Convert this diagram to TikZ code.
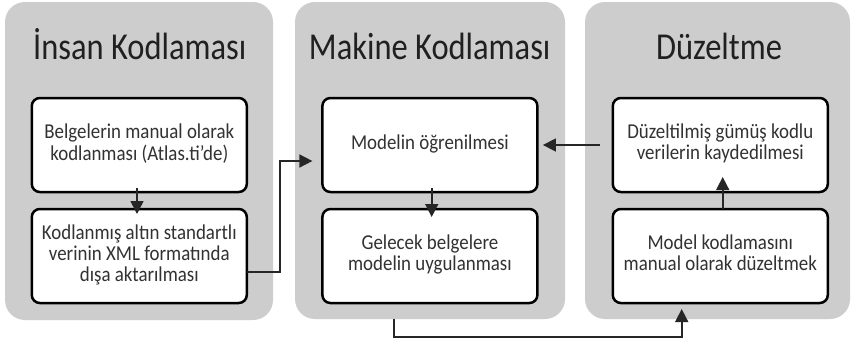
\documentclass[tikz,border=0pt]{standalone}
\usepackage{fontspec}
\setmainfont{Carlito}
\usepackage{graphicx}
\usetikzlibrary{arrows.meta}
\definecolor{panelgray}{RGB}{205,205,205}
\definecolor{titlecol}{RGB}{32,32,32}
\definecolor{txtcol}{RGB}{50,50,50}
\newcommand{\boxtext}[1]{\scalebox{1}[1.12]{\begin{tabular}{@{}c@{}}#1\end{tabular}}}
\newcommand{\ttltext}[1]{\scalebox{1}[1.17]{#1}}
\begin{document}
\begin{tikzpicture}[x=1pt,y=-1pt,
  panel/.style={fill=panelgray, rounded corners=20pt, inner sep=0pt, outer sep=0pt},
  ttl/.style={text=titlecol, inner sep=0pt, font=\fontsize{32.5}{39}\selectfont},
  boxst/.style={draw=black, line width=2.5pt, fill=white, rounded corners=8pt,
    minimum width=215pt, minimum height=94pt, inner sep=0pt, outer sep=0pt,
    text=txtcol, font=\fontsize{18.9}{18.75}\selectfont},
  arr/.style={draw=black!85, line width=1.6pt, -{Triangle[length=13pt,width=13pt]}}]
\useasboundingbox[fill=white] (0,0) rectangle (851,346);
% panels
\node[panel, minimum width=268pt, minimum height=318pt] (p1) at (139,161) {};
\node[panel, minimum width=270pt, minimum height=317pt] (p2) at (430,160.5) {};
\node[panel, minimum width=265pt, minimum height=317pt] (p3) at (717.5,160.5) {};
% titles
\node[ttl, anchor=base] (t1) at (139.7,59.3) {\ttltext{İnsan Kodlaması}};
\node[ttl, anchor=base] (t2) at (429.7,59.3) {\ttltext{Makine Kodlaması}};
\node[ttl, anchor=base] (t3) at (719,59.3) {\ttltext{Düzeltme}};
% boxes
\node[boxst] (a1) at (139.3,145) {\boxtext{Belgelerin manual olarak\\kodlanması (Atlas.ti'de)}};
\node[boxst] (a2) at (139.3,256) {\boxtext{Kodlanmış altın standartlı\\verinin XML formatında\\dışa aktarılması}};
\node[boxst] (b1) at (429.9,145) {\boxtext{Modelin öğrenilmesi}};
\node[boxst] (b2) at (429.9,256) {\boxtext{Gelecek belgelere\\modelin uygulanması}};
\node[boxst] (c1) at (720.3,145) {\boxtext{Düzeltilmiş gümüş kodlu\\verilerin kaydedilmesi}};
\node[boxst] (c2) at (720.3,256) {\boxtext{Model kodlamasını\\manual olarak düzeltmek}};
% helper coordinates
\coordinate (k1) at (280,161);
\coordinate (k2) at (394,337);
% connectors
\draw[arr, shorten <=-4pt, shorten >=-5pt] ([xshift=-2.3pt]a1.south) -- ([xshift=-2.3pt]a2.north);
\draw[arr, shorten <=-4pt, shorten >=-8pt] ([xshift=1.8pt]b1.south) -- ([xshift=1.8pt]b2.north);
\draw[arr, shorten >=-15pt] ([xshift=2.4pt]c2.north) -- ([xshift=2.4pt]c1.south);
\draw[arr, shorten >=10pt] ([yshift=-16pt]a2.east) -| (k1) -- ([yshift=-16pt]b1.west);
\draw[arr, shorten <=13pt, shorten >=5.5pt] (c1.west) -- (b1.east);
\draw[arr, shorten >=6pt] ([xshift=-36pt]p2.south) -- (k2) -| ([xshift=-38.6pt]c2.south);
\end{tikzpicture}
\end{document}
